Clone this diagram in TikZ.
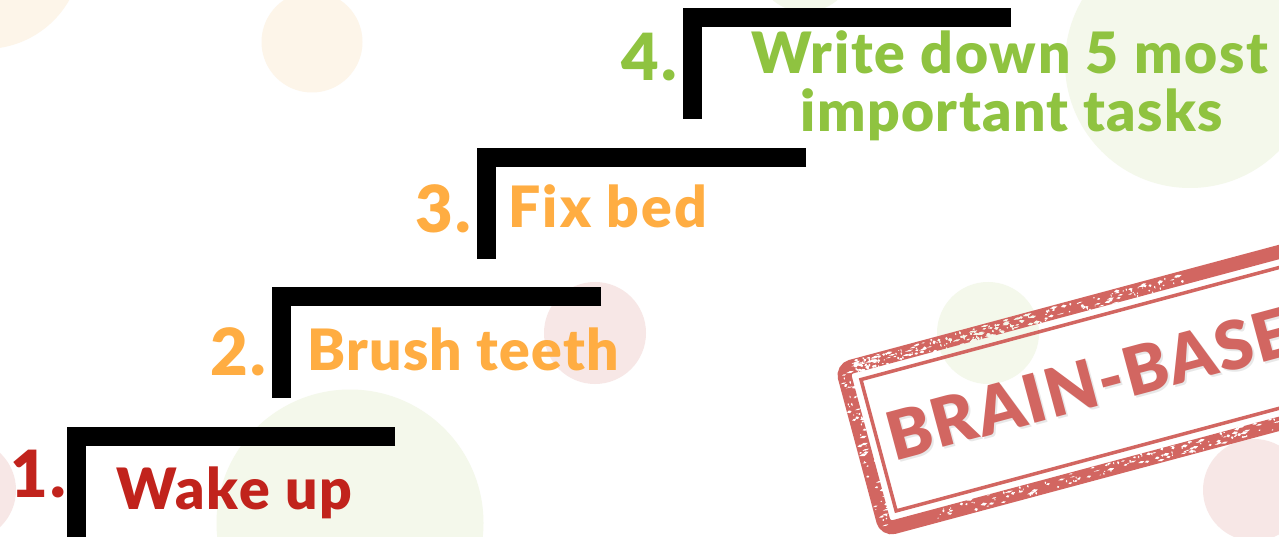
\documentclass[tikz,border=0pt]{standalone}
\usepackage{fontspec}
\setmainfont{Lato}[UprightFont=* Black,LetterSpace=2.5]
\definecolor{stepred}{HTML}{C1231C}
\definecolor{steporange}{HTML}{FFAD42}
\definecolor{stepgreen}{HTML}{8FC340}
\definecolor{stampred}{HTML}{D26661}
\definecolor{dotgreen}{HTML}{F4F8EB}
\definecolor{dotpink}{HTML}{F7E7E6}
\definecolor{dotpeach}{HTML}{FDF5E9}
\tikzset{
  labeltext/.style={anchor=base west,inner sep=0pt,outer sep=0pt},
  numtext/.style={labeltext,font=\fontsize{65}{65}\selectfont\addfontfeatures{LetterSpace=5}},
  tasktext/.style={labeltext,font=\fontsize{57}{58}\selectfont},
  wider/.style={font=\fontsize{57}{58}\selectfont\addfontfeatures{LetterSpace=#1}},
  stamptextstyle/.style={labeltext,rotate=15,font=\fontsize{67}{67}\selectfont},
  stair/.style={line width=19pt,black,line cap=butt,line join=miter},
  stampband/.style={draw=stampred,rounded corners=9pt},
  stampframe/.style={shift={(834,364)},rotate=15},
}
\newcommand{\flecks}[1]{%
  \pgfmathsetseed{4217}%
  \foreach \i in {1,...,460}{%
    \pgfmathsetmacro{\tt}{rnd}%
    \pgfmathsetmacro{\u}{pow(rnd,1.6)}%
    \pgfmathsetmacro{\zone}{rnd}%
    \pgfmathsetmacro{\cc}{rnd*2-1}%
    \ifdim\zone pt<0.58pt
      \pgfmathsetmacro{\px}{20+\u*340}\pgfmathsetmacro{\py}{8+\cc*6}%
    \else\ifdim\zone pt<0.88pt
      \pgfmathsetmacro{\px}{60+\tt*410}\pgfmathsetmacro{\py}{172+\cc*6}%
    \else
      \pgfmathsetmacro{\px}{8+\cc*6}\pgfmathsetmacro{\py}{10+\tt*160}%
    \fi\fi
    \pgfmathsetmacro{\sa}{0.6+3.6*pow(rnd,2)}%
    \pgfmathsetmacro{\sb}{0.4+1.3*rnd}%
    \fill[#1,shift={(\px,\py)}] (-\sa,0) -- (0,-\sb) -- (\sa,-0.2) -- (0.2*\sa,\sb) -- cycle;
  }%
}
\begin{document}
\begin{tikzpicture}[x=1pt,y=-1pt]
\useasboundingbox (0,0) rectangle (1279,537);
\clip (0,0) rectangle (1279,537);
\fill[white] (0,0) rectangle (1279,537);
% background discs
\fill[dotpeach] (-15,-48) circle (97);
\fill[dotpeach] (312,42) circle (50.5);
\fill[dotgreen] (805,-38) circle (50);
\fill[dotgreen] (1190,63) circle (125);
\fill[dotpink] (595,333) circle (51);
\fill[dotgreen] (350,523) circle (133.5);
\fill[dotpink] (-35,490) circle (51);
\fill[dotgreen] (988,333) circle (51);
\fill[dotpink] (1254,490) circle (51);
% stairs
\draw[stair] (395,436.5) -| (76.5,540);
\draw[stair] (601,296.5) -| (281.5,398);
\draw[stair] (806,157.5) -| (486.5,259);
\draw[stair] (1011,17.5) -| (692.5,119);
% stamp
\begin{scope}[stampframe]
  \draw[stampband,line width=14pt] (7,7) rectangle (660,173);
  \draw[draw=stampred,line width=3.5pt] (22,22) rectangle (660,158);
  \flecks{white}
\end{scope}
\begin{scope}
  \clip (988,333) circle (51);
  \begin{scope}[stampframe]\flecks{dotgreen}\end{scope}
\end{scope}
\begin{scope}
  \clip (1254,490) circle (51);
  \begin{scope}[stampframe]\flecks{dotpink}\end{scope}
\end{scope}
\node[stamptextstyle,text=black,opacity=.09] (stampshadow) at (896,463) {BRAIN-BASED};
\node[stamptextstyle,text=stampred] (stamptext) at (894,461) {BRAIN-BASED};
% labels
\node[numtext,text=stepred] (n1) at (10,497.5) {1.};
\node[tasktext,wider=3.7,text=stepred] (t1) at (116,509) {Wake up};
\node[numtext,text=steporange] (n2) at (210,375.5) {2.};
\node[tasktext,wider=2.2,text=steporange] (t2) at (307.5,370) {Brush teeth};
\node[numtext,text=steporange] (n3) at (415,232.5) {3.};
\node[tasktext,wider=3.7,text=steporange] (t3) at (508.5,228) {Fix bed};
\node[numtext,text=stepgreen] (n4) at (621,80.5) {4.};
\node[tasktext,wider=3.3,text=stepgreen] (t4a) at (751,74) {Write down 5 most};
\node[tasktext,text=stepgreen] (t4b) at (800.5,132) {important tasks};
\end{tikzpicture}
\end{document}
